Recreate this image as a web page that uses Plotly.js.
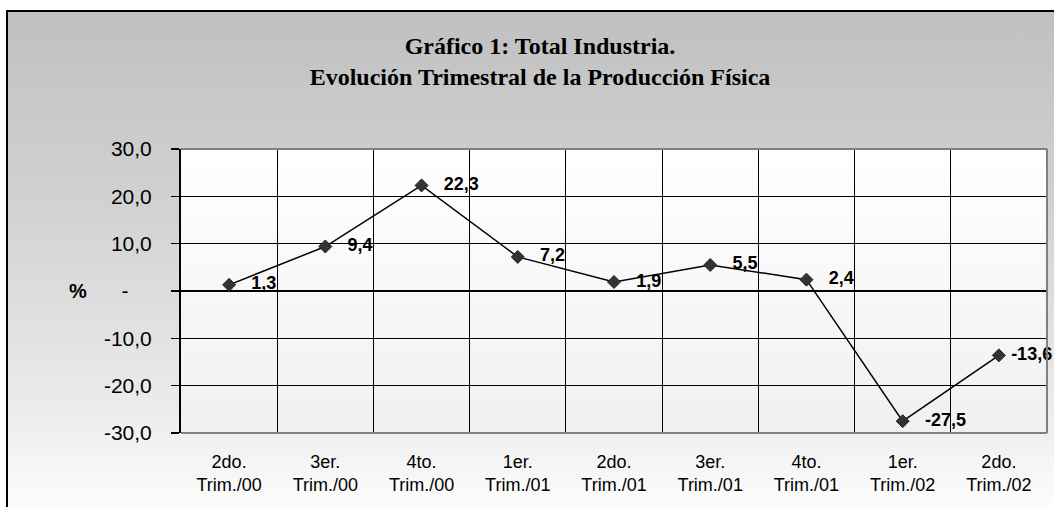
<!DOCTYPE html>
<html>
<head>
<meta charset="utf-8">
<script src="https://cdn.plot.ly/plotly-3.0.1.min.js"></script>
<style>
  html, body { margin: 0; padding: 0; background: #ffffff; overflow: hidden; }
  #frame {
    position: absolute; left: 6px; top: 10px; width: 1200px; height: 600px;
    border-top: 2.5px solid #000; border-left: 2.5px solid #000;
    background: linear-gradient(to bottom, #c0c0c0 0px, #d2d2d2 200px, #ececec 400px, #fdfdfd 497px);
  }
  #plotbg {
    position: absolute; left: 181px; top: 149px; width: 866px; height: 284px;
    background: linear-gradient(to bottom, #ffffff 0%, #f0f0f0 100%);
  }
  #chart { position: absolute; left: 0; top: 0; width: 1054px; height: 507px; }
</style>
</head>
<body>
<div id="frame"></div>
<div id="plotbg"></div>
<div id="chart"></div>
<script>
const categories = [
  "2do.<br>Trim./00", "3er.<br>Trim./00", "4to.<br>Trim./00",
  "1er.<br>Trim./01", "2do.<br>Trim./01", "3er.<br>Trim./01",
  "4to.<br>Trim./01", "1er.<br>Trim./02", "2do.<br>Trim./02"
];
const values = [1.3, 9.4, 22.3, 7.2, 1.9, 5.5, 2.4, -27.5, -13.6];
const yTickVals = [-30, -20, -10, 0, 10, 20, 30];
const yTickText = ["-30,0", "-20,0", "-10,0", "-\u00a0\u00a0\u00a0\u00a0", "10,0", "20,0", "30,0"];
const xIndex = categories.map((c, i) => i);

const sans = "Liberation Sans, Arial, sans-serif";
const serif = "Liberation Serif, Times New Roman, serif";

// label gap: the last label sits closer to its point so it stays inside the picture
const labelTemplates = values.map((v, i) =>
  i === values.length - 1 ? "\u00a0%{y:.1f}" : "\u00a0\u00a0\u00a0%{y:.1f}");

const trace = {
  x: xIndex,
  y: values,
  type: "scatter",
  mode: "lines+markers+text",
  line: { color: "#000000", width: 1.5 },
  marker: { symbol: "diamond", size: 10, color: "#333333", line: { color: "#222222", width: 1 } },
  texttemplate: labelTemplates,
  textposition: "middle right",
  textfont: { family: sans, size: 18, color: "#000000", weight: "bold" },
  cliponaxis: false,
  hoverinfo: "skip",
  showlegend: false
};

const layout = {
  width: 1054,
  height: 507,
  separators: ",.",
  paper_bgcolor: "rgba(0,0,0,0)",
  plot_bgcolor: "rgba(0,0,0,0)",
  margin: { l: 181, r: 7, t: 149, b: 74 },
  title: {
    text: "<b>Gráfico 1: Total Industria.</b><br><b>Evolución Trimestral de la Producción Física</b>",
    font: { family: serif, size: 24, color: "#000000" },
    xref: "container", x: 540 / 1054, xanchor: "center",
    yref: "container", y: 1 - 54 / 507, yanchor: "top"
  },
  xaxis: {
    range: [-0.5, 8.5],
    tickmode: "array",
    tickvals: xIndex,
    ticktext: categories,
    showgrid: false,
    zeroline: false,
    showline: false,
    ticks: "",
    ticklabelstandoff: 16,
    tickfont: { family: sans, size: 18, color: "#000000" },
    minor: { tick0: 0.5, dtick: 1, showgrid: true, gridcolor: "#000000", gridwidth: 1.2, ticks: "" },
    fixedrange: true
  },
  yaxis: {
    range: [-30, 30],
    tickmode: "array",
    tickvals: yTickVals,
    ticktext: yTickText,
    showgrid: true,
    gridcolor: "#000000",
    gridwidth: 1,
    zeroline: true,
    zerolinecolor: "#000000",
    zerolinewidth: 2,
    showline: true,
    linecolor: "#000000",
    linewidth: 2,
    ticks: "outside",
    ticklen: 8,
    tickwidth: 1.5,
    tickcolor: "#000000",
    ticklabelstandoff: 15,
    tickfont: { family: sans, size: 21, color: "#000000" },
    fixedrange: true
  },
  shapes: [
    { type: "line", xref: "paper", yref: "paper", x0: 0, x1: 1, y0: 1, y1: 1, line: { color: "#808080", width: 2 } },
    { type: "line", xref: "paper", yref: "paper", x0: 1, x1: 1, y0: 0, y1: 1, line: { color: "#808080", width: 2 } },
    { type: "line", xref: "paper", yref: "paper", x0: 0, x1: 1, y0: 0, y1: 0, line: { color: "#808080", width: 2 } }
  ],
  annotations: [
    {
      text: "<b>%</b>", xref: "paper", yref: "y", x: (78 - 181) / 866, y: 0,
      xanchor: "center", yanchor: "middle", showarrow: false,
      font: { family: sans, size: 20, color: "#000000" }
    }
  ]
};

Plotly.newPlot("chart", [trace], layout, { displayModeBar: false, staticPlot: true });
</script>
</body>
</html>
